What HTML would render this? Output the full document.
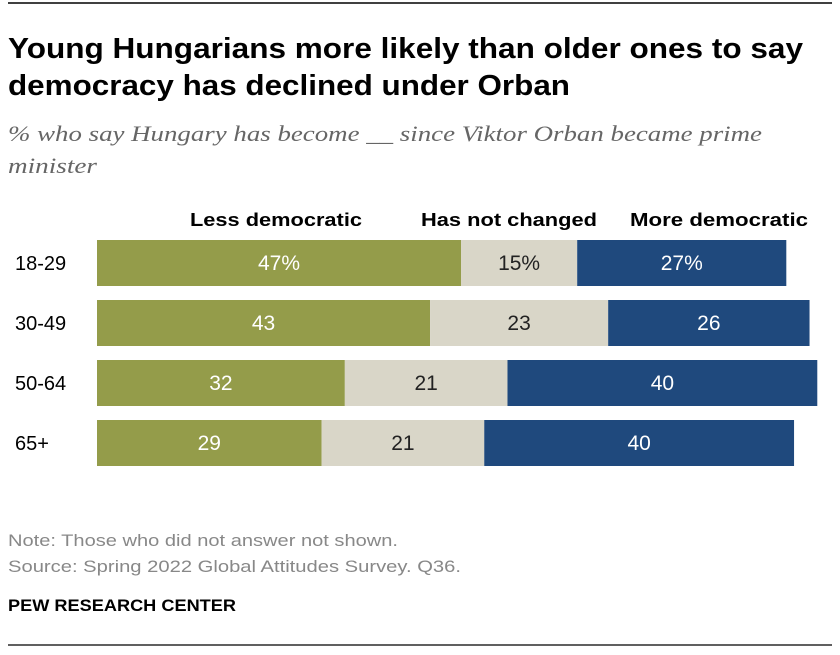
<!DOCTYPE html>
<html><head><meta charset="utf-8"><style>
body{margin:0;background:#fff;width:840px;height:650px;overflow:hidden;font-family:"Liberation Sans",sans-serif;}
</style></head><body>
<svg width="840" height="650">
<line x1="8" x2="832" y1="3" y2="3" stroke="#000" stroke-width="1.5"/>
<text x="8" y="58" font-size="29" font-weight="bold" fill="#000" textLength="795" lengthAdjust="spacingAndGlyphs">Young Hungarians more likely than older ones to say</text>
<text x="8" y="95" font-size="29" font-weight="bold" fill="#000" textLength="562" lengthAdjust="spacingAndGlyphs">democracy has declined under Orban</text>
<text x="8" y="141" font-size="22" font-style="italic" font-family="Liberation Serif,serif" fill="#666" textLength="754" lengthAdjust="spacingAndGlyphs">% who say Hungary has become __ since Viktor Orban became prime</text>
<text x="8" y="173" font-size="22" font-style="italic" font-family="Liberation Serif,serif" fill="#666" textLength="89" lengthAdjust="spacingAndGlyphs">minister</text>
<text x="190" y="226" font-size="18" font-weight="bold" textLength="172" lengthAdjust="spacingAndGlyphs">Less democratic</text>
<text x="421" y="226" font-size="18" font-weight="bold" textLength="176" lengthAdjust="spacingAndGlyphs">Has not changed</text>
<text x="630" y="226" font-size="18" font-weight="bold" textLength="178" lengthAdjust="spacingAndGlyphs">More democratic</text>
<g id="bars"></g>
<text x="8" y="546" font-size="17" fill="#888" textLength="390" lengthAdjust="spacingAndGlyphs">Note: Those who did not answer not shown.</text>
<text x="8" y="572" font-size="17" fill="#888" textLength="453" lengthAdjust="spacingAndGlyphs">Source: Spring 2022 Global Attitudes Survey. Q36.</text>
<text x="8" y="611" font-size="17" font-weight="bold" fill="#000" textLength="228" lengthAdjust="spacingAndGlyphs">PEW RESEARCH CENTER</text>
<line x1="8" x2="832" y1="645" y2="645" stroke="#000" stroke-width="1.2"/>
</svg>
<script>
const categories=["18-29","30-49","50-64","65+"];
const lessDem=[47,43,32,29];
const notChanged=[15,23,21,21];
const moreDem=[27,26,40,40];
const x0=97, scale=7.745, y0=240, pitch=60, bh=46;
const xs=v=>v*scale;
const ns="http://www.w3.org/2000/svg";
const g=document.getElementById('bars');
const series=[[lessDem,"#949c4a","#fff","less-democratic"],[notChanged,"#d9d6c8","#222","has-not-changed"],[moreDem,"#1f497d","#fff","more-democratic"]];
categories.forEach((c,i)=>{
  const y=y0+i*pitch;
  const t=document.createElementNS(ns,'text');
  
  
  t.setAttribute('x',15);t.setAttribute('y',y+bh/2+7);t.setAttribute('font-size','20');
  t.textContent=c;g.appendChild(t);
  let x=x0;
  series.forEach((s,j)=>{
    const v=s[0][i],w=xs(v);
    const r=document.createElementNS(ns,'rect');
    
    
    r.setAttribute('x',x);r.setAttribute('y',y);r.setAttribute('width',w);r.setAttribute('height',bh);r.setAttribute('fill',s[1]);
    g.appendChild(r);
    const l=document.createElementNS(ns,'text');
    
    
    l.setAttribute('x',x+w/2);l.setAttribute('y',y+bh/2+7);l.setAttribute('font-size','21');l.setAttribute('text-anchor','middle');l.setAttribute('fill',s[2]);
    l.textContent=i===0?v+"%":String(v);
    g.appendChild(l);
    x+=w;
  });
});
</script>
</body></html>
